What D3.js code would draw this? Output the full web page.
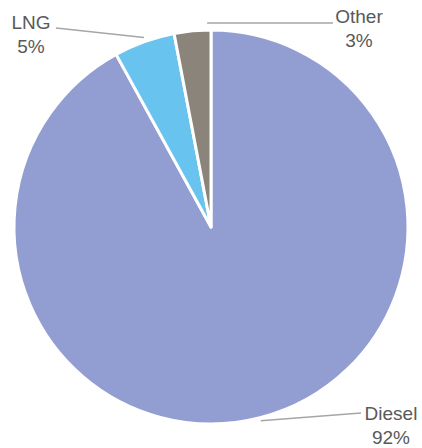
<!DOCTYPE html>
<html>
<head>
<meta charset="utf-8">
<script src="https://cdn.jsdelivr.net/npm/d3@7"></script>
<style>
html,body{margin:0;padding:0;background:#fff;}
svg{display:block;}
text{font-family:Arial,"Liberation Sans",sans-serif;fill:#595959;}
</style>
</head>
<body>
<svg id="chart" width="422" height="448"></svg>
<script>
const categories = ["Diesel", "LNG", "Other"];
const values = [92, 5, 3];
const percentLabels = ["92%", "5%", "3%"];
const colors = ["#929ED1", "#68C4EF", "#8A847B"];

const width = 422, height = 448;
const cx = 211, cy = 227, radius = 197;

// label layout (positions of text blocks and where leader lines meet them)
const labelPos = [
  {x: 391, y: 420, lx: 361, ly: 413, frac: 0.5, rOut: 3},
  {x: 31,  y: 29,  lx: 56,  ly: 28,  frac: 0.52, rOut: 4},
  {x: 359, y: 23,  lx: 333, ly: 23,  frac: 0.9, rOut: 7}
];

const svg = d3.select("#chart");
const g = svg.append("g").attr("transform", `translate(${cx},${cy})`);

const pie = d3.pie().sort(null).value(d => d.value);
const data = categories.map((c, i) => ({name: c, value: values[i], pct: percentLabels[i], color: colors[i], i}));
const arcs = pie(data);

const arc = d3.arc().innerRadius(0).outerRadius(radius);

g.selectAll("path.slice").data(arcs).join("path")
  .attr("class", "slice")
  .attr("d", arc)
  .attr("fill", d => d.data.color)
  .attr("stroke", "#fff")
  .attr("stroke-width", 3)
  .attr("stroke-linejoin", "round");

// leader lines
arcs.forEach(a => {
  const lp = labelPos[a.data.i];
  const ang = a.startAngle + (a.endAngle - a.startAngle) * lp.frac;
  const r = radius + lp.rOut;
  const px = Math.sin(ang) * r + cx;
  const py = -Math.cos(ang) * r + cy;
  svg.append("line")
    .attr("x1", px).attr("y1", py)
    .attr("x2", lp.lx).attr("y2", lp.ly)
    .attr("stroke", "#A6A6A6")
    .attr("stroke-width", 1.5);
  const t = svg.append("text")
    .attr("text-anchor", "middle")
    .attr("font-size", 19);
  t.append("tspan").attr("x", lp.x).attr("y", lp.y).text(a.data.name);
  t.append("tspan").attr("x", lp.x).attr("y", lp.y + 24).text(a.data.pct);
});
</script>
</body>
</html>
